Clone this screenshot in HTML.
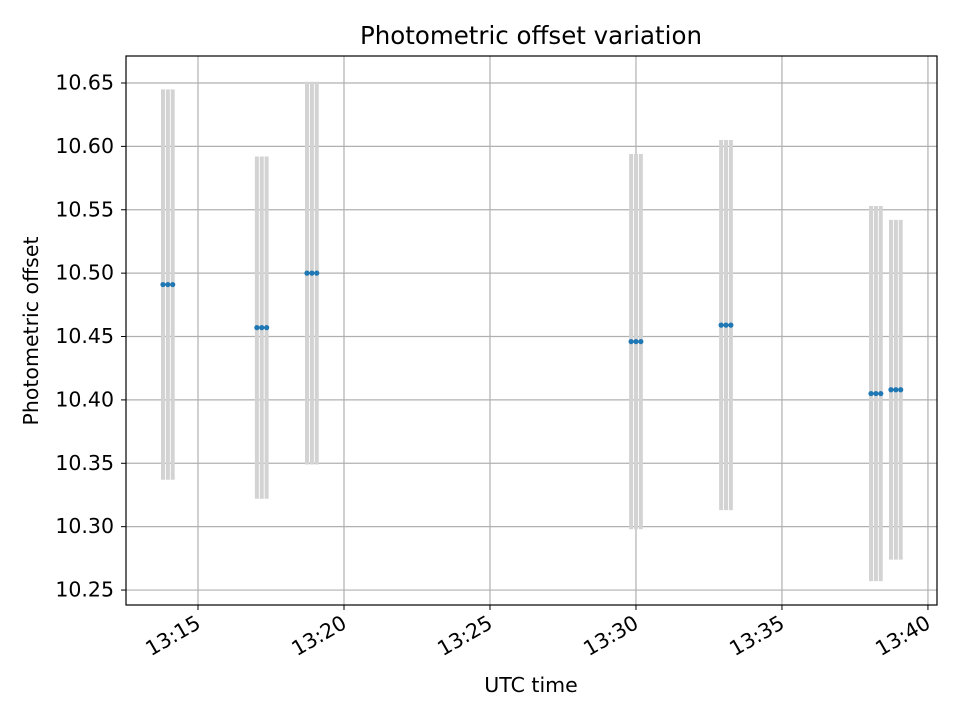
<!DOCTYPE html>
<html><head><meta charset="utf-8"><style>
body{margin:0;background:#fff;font-family:"Liberation Sans","DejaVu Sans",sans-serif}
svg text{font-family:"DejaVu Sans","Liberation Sans",sans-serif}
</style></head><body>
<svg id="chart" width="960" height="720" xmlns="http://www.w3.org/2000/svg"></svg>
<script>
// times in seconds after 13:00:00 (middle point of each group)
const groupTimes = [838, 1031, 1134, 1800, 1985, 2293, 2334];
const groupValues = [10.491, 10.457, 10.500, 10.446, 10.459, 10.405, 10.408];
const groupErrors = [0.154, 0.135, 0.151, 0.148, 0.146, 0.148, 0.134];
const subOffsets = [-10, 0, 10];
const yTicks = [10.25, 10.30, 10.35, 10.40, 10.45, 10.50, 10.55, 10.60, 10.65];
const xTicks = [900, 1200, 1500, 1800, 2100, 2400];
const xTickLabels = ["13:15", "13:20", "13:25", "13:30", "13:35", "13:40"];

const L=126,R=937,T=56,B=605;
const xMin=900-2.466*60, xMax=900+25.31*60, yMin=10.2382, yMax=10.6713;
const xs=t=>L+(t-xMin)/(xMax-xMin)*(R-L);
const ys=v=>B-(v-yMin)/(yMax-yMin)*(B-T);
const svg=document.getElementById('chart');
const NS='http://www.w3.org/2000/svg';
function mk(tag,attrs,parent){const e=document.createElementNS(NS,tag);for(const k in attrs)e.setAttribute(k,attrs[k]);(parent||svg).appendChild(e);return e;}

const grid=mk('g',{});


xTicks.forEach(t=>{mk('line',{x1:xs(t),x2:xs(t),y1:T,y2:B,stroke:'#b0b0b0','stroke-width':1.2},grid);});
yTicks.forEach(v=>{mk('line',{x1:L,x2:R,y1:ys(v),y2:ys(v),stroke:'#b0b0b0','stroke-width':1.2},grid);});

const eb=mk('g',{});


const pts=mk('g',{});


groupTimes.forEach((t,i)=>{
  subOffsets.forEach(o=>{
    const x=xs(t+o);
    const l=mk('line',{x1:x,x2:x,y1:ys(groupValues[i]+groupErrors[i]),y2:ys(groupValues[i]-groupErrors[i]),stroke:'#d3d3d3','stroke-width':4},eb);
    
    
  });
});
groupTimes.forEach((t,i)=>{
  subOffsets.forEach(o=>{
    const c=mk('circle',{cx:xs(t+o),cy:ys(groupValues[i]),r:2.6,fill:'#1f77b4'},pts);
    
    
  });
});

const frame=mk('rect',{x:L,y:T,width:R-L,height:B-T,fill:'none',stroke:'#000','stroke-width':1.2});



const ya=mk('g',{});


yTicks.forEach(v=>{
  mk('line',{x1:L-5,x2:L,y1:ys(v),y2:ys(v),stroke:'#000','stroke-width':1},ya);
  const tx=mk('text',{x:L-12,y:ys(v)+6.5,'text-anchor':'end',style:'font-size:20.5px'},ya);
  tx.textContent=v.toFixed(2);
  
  
});
const xa=mk('g',{});


xTicks.forEach((t,i)=>{
  const x=xs(t);
  mk('line',{x1:x,x2:x,y1:B,y2:B+5,stroke:'#000','stroke-width':1},xa);
  const tx=mk('text',{x:x+4,y:B+22,'text-anchor':'end',style:'font-size:20.5px',transform:`rotate(-30 ${x+4} ${B+22})`},xa);
  tx.textContent=xTickLabels[i];
  
  
});
const xt=mk('text',{x:531,y:692,'text-anchor':'middle',style:'font-size:20.5px'});
xt.textContent='UTC time';


const yt=mk('text',{x:38,y:331,'text-anchor':'middle',style:'font-size:20.5px',transform:'rotate(-90 38 331)'});
yt.textContent='Photometric offset';


const tt=mk('text',{x:531,y:44,'text-anchor':'middle',style:'font-size:24.5px'});
tt.textContent='Photometric offset variation';


</script>
</body></html>
